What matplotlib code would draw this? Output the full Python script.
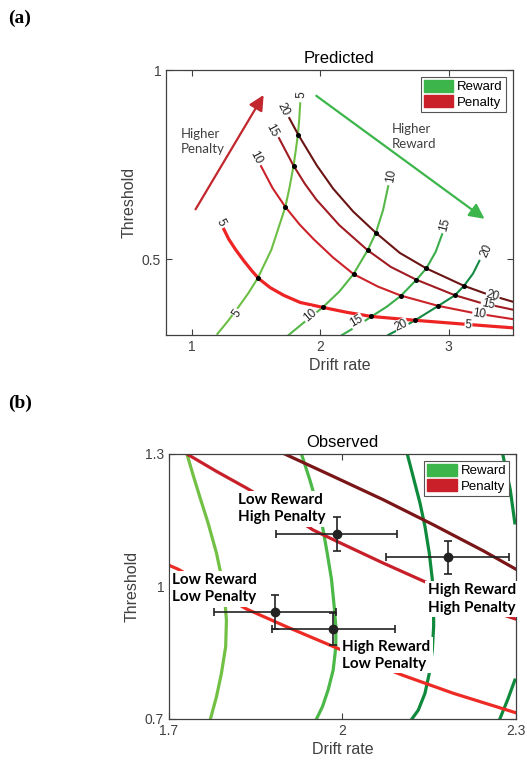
import numpy as np
import matplotlib
matplotlib.use('Agg')
import matplotlib.pyplot as plt
from matplotlib.patches import Patch

plt.rcParams['font.family'] = ['Liberation Sans', 'DejaVu Sans']

# ---------------- dados painel (a): curvas de nivel previstas ----------------
pen5_x = [1.251, 1.289, 1.341, 1.406, 1.470, 1.522, 1.612, 1.716, 1.845, 2.021, 2.207, 2.401,
          2.736, 3.111, 3.499]
pen5_y = [0.579, 0.553, 0.526, 0.496, 0.469, 0.449, 0.425, 0.405, 0.386, 0.373, 0.360, 0.349,
          0.339, 0.329, 0.319]
pen10_x = [1.54, 1.63, 1.73, 1.84, 1.95, 2.10, 2.26, 2.45, 2.63, 2.92, 3.20, 3.50]
pen10_y = [0.746, 0.688, 0.638, 0.592, 0.553, 0.505, 0.461, 0.428, 0.404, 0.377, 0.358, 0.342]
pen15_x = [1.68, 1.79, 1.88, 1.97, 2.15, 2.37, 2.55, 2.75, 3.05, 3.25, 3.50]
pen15_y = [0.820, 0.749, 0.700, 0.658, 0.590, 0.524, 0.480, 0.446, 0.405, 0.385, 0.367]
pen20_x = [1.76, 1.83, 1.974, 2.103, 2.258, 2.434, 2.62, 2.827, 3.12, 3.30, 3.50]
pen20_y = [0.873, 0.829, 0.748, 0.686, 0.626, 0.570, 0.517, 0.476, 0.430, 0.408, 0.388]

rew5_x = [1.20, 1.28, 1.36, 1.44, 1.514, 1.62, 1.729, 1.762, 1.793, 1.81, 1.827, 1.837, 1.845]
rew5_y = [0.303, 0.336, 0.372, 0.410, 0.450, 0.525, 0.638, 0.690, 0.747, 0.787, 0.829, 0.868, 0.912]
rew10_x = [1.755, 1.88, 2.02, 2.15, 2.26, 2.37, 2.434, 2.49, 2.53]
rew10_y = [0.300, 0.335, 0.373, 0.415, 0.461, 0.524, 0.570, 0.630, 0.693]
rew15_x = [2.17, 2.28, 2.40, 2.52, 2.63, 2.75, 2.827, 2.90, 2.95]
rew15_y = [0.300, 0.322, 0.349, 0.375, 0.404, 0.446, 0.476, 0.520, 0.566]
rew20_x = [2.53, 2.63, 2.74, 2.92, 3.05, 3.12, 3.19, 3.24]
rew20_y = [0.300, 0.318, 0.339, 0.377, 0.405, 0.430, 0.462, 0.496]

# pontos de intersecao
cruz_x = [1.514, 1.729, 1.793, 1.827, 2.02, 2.26, 2.37, 2.434, 2.40, 2.63, 2.75, 2.827,
          2.74, 2.92, 3.05, 3.12]
cruz_y = [0.450, 0.638, 0.747, 0.829, 0.373, 0.461, 0.524, 0.570, 0.349, 0.404, 0.446, 0.476,
          0.339, 0.377, 0.405, 0.430]

# ---------------- dados painel (b): observado ----------------
g1_x = [1.731, 1.7415, 1.753, 1.7675, 1.782, 1.7906, 1.7964, 1.7993, 1.798, 1.7906, 1.782, 1.7716]
g1_y = [1.300, 1.253, 1.204, 1.144, 1.076, 1.023, 0.970, 0.924, 0.864, 0.803, 0.750, 0.700]
g2_x = [1.929, 1.9434, 1.955, 1.9654, 1.9735, 1.981, 1.9856, 1.9885, 1.9885, 1.9839, 1.9752,
        1.9654, 1.955]
g2_y = [1.300, 1.242, 1.189, 1.136, 1.076, 1.016, 0.955, 0.909, 0.864, 0.811, 0.766, 0.728, 0.700]
g3_x = [2.112, 2.1235, 2.134, 2.1426, 2.150, 2.1553, 2.1576, 2.1576, 2.1553, 2.150, 2.1426,
        2.131, 2.120]
g3_y = [1.300, 1.242, 1.189, 1.136, 1.076, 1.016, 0.955, 0.909, 0.856, 0.803, 0.758, 0.720, 0.700]
g4a_x = [2.277, 2.290, 2.298]
g4a_y = [1.300, 1.220, 1.144]
g4b_x = [2.272, 2.286, 2.298]
g4b_y = [0.700, 0.745, 0.788]

rb_mid_x = [1.731, 1.782, 1.834, 1.8945, 1.949, 1.990, 2.0704, 2.148, 2.226, 2.300]
rb_mid_y = [1.300, 1.2607, 1.2229, 1.1753, 1.128, 1.1024, 1.053, 1.0075, 0.9584, 0.926]
rb_vivo_x = [1.700, 1.716, 1.834, 1.903, 1.995, 2.102, 2.192, 2.300]
rb_vivo_y = [1.048, 1.039, 0.949, 0.909, 0.858, 0.800, 0.758, 0.714]
rb_escuro_x = [1.900, 1.9837, 2.0704, 2.157, 2.2434, 2.300]
rb_escuro_y = [1.300, 1.2494, 1.1965, 1.1398, 1.0808, 1.039]

obs_x = [1.990, 2.182, 1.883, 1.984]
obs_y = [1.119, 1.066, 0.942, 0.904]
obs_xerr = [0.105, 0.106, 0.105, 0.106]
obs_yerr = [0.038, 0.038, 0.038, 0.037]
obs_rotulos = ['Low Reward\nHigh Penalty', 'High Reward\nHigh Penalty',
               'Low Reward\nLow Penalty', 'High Reward\nLow Penalty']
rot_x = [1.819, 2.147, 1.706, 2.000]
rot_y = [1.176, 0.972, 0.995, 0.844]

# cores
c_pen = ['#ee2424', '#cc2229', '#a01c22', '#6b1414']
c_rew = ['#6cbf44', '#55b848', '#3aae4a', '#138a43']
cinza = '#404040'

fig = plt.figure(figsize=(5.27, 7.67), dpi=100)
ax1 = fig.add_axes([0.315, 0.5632, 0.658, 0.3455])
ax2 = fig.add_axes([0.3207, 0.0626, 0.6584, 0.3455])


def estilo(ax):
    for s in ax.spines.values():
        s.set_color(cinza)
        s.set_linewidth(0.9)
    ax.tick_params(direction='in', top=True, right=True, length=4, color=cinza,
                   labelcolor=cinza, labelsize=10, width=0.8)
    ax.set_xlabel('Drift rate', fontsize=11.5, color=cinza, labelpad=3)
    ax.set_ylabel('Threshold', fontsize=11.5, color=cinza, labelpad=4)


# ---------------- painel (a) ----------------
pen_x = [pen5_x, pen10_x, pen15_x, pen20_x]
pen_y = [pen5_y, pen10_y, pen15_y, pen20_y]
rew_x = [rew5_x, rew10_x, rew15_x, rew20_x]
rew_y = [rew5_y, rew10_y, rew15_y, rew20_y]
lw_pen = [2.3, 1.5, 1.5, 1.5]
for i in range(4):
    ax1.plot(rew_x[i], rew_y[i], color=c_rew[i], lw=1.5, zorder=2)
    ax1.plot(pen_x[i], pen_y[i], color=c_pen[i], lw=lw_pen[i], zorder=3)
ax1.plot(cruz_x, cruz_y, 'o', color='black', ms=2.6, zorder=5)

# rotulos das curvas: primeiro o fundo branco (abre a linha), depois o texto por cima
niveis = ['5', '10', '15', '20']
lab_pen_ini = [(1.225, 0.598, -62), (1.496, 0.768, -62), (1.625, 0.840, -62), (1.710, 0.895, -62)]
lab_pen_fim = [(3.155, 0.327, -4), (3.240, 0.355, -8), (3.305, 0.380, -12), (3.344, 0.404, -15)]
lab_rew_top = [(1.858, 0.935, 88), (2.550, 0.720, 80), (2.974, 0.592, 75), (3.292, 0.522, 65)]
lab_rew_bot = [(1.350, 0.358, 55), (1.920, 0.351, 40), (2.284, 0.336, 30), (2.633, 0.325, 25)]
for grupo in [lab_pen_ini, lab_pen_fim, lab_rew_top, lab_rew_bot]:
    for (x, y, r), t in zip(grupo, niveis):
        ax1.text(x, y, t, fontsize=8.5, rotation=r, ha='center', va='center', color='white',
                 zorder=6, bbox=dict(boxstyle='square,pad=0.05', fc='white', ec='none'))
        ax1.text(x, y, t, fontsize=8.5, rotation=r, ha='center', va='center', color='#222222',
                 zorder=7)

ax1.annotate('', xy=(1.56, 0.934), xytext=(1.03, 0.632),
             arrowprops=dict(arrowstyle='-|>,head_length=0.9,head_width=0.45', color='#c1272d',
                             lw=1.6, shrinkA=0, shrinkB=0))
ax1.annotate('', xy=(3.28, 0.607), xytext=(1.97, 0.932),
             arrowprops=dict(arrowstyle='-|>,head_length=0.9,head_width=0.45', color='#3cb54a',
                             lw=1.6, shrinkA=0, shrinkB=0))
ax1.text(0.915, 0.811, 'Higher\nPenalty', fontsize=9.5, family=['Lato', 'DejaVu Sans'],
         color=cinza, va='center', ha='left', linespacing=1.35)
ax1.text(2.556, 0.825, 'Higher\nReward', fontsize=9.5, family=['Lato', 'DejaVu Sans'],
         color=cinza, va='center', ha='left', linespacing=1.35)

ax1.set_xlim(0.8, 3.5)
ax1.set_ylim(0.3, 1.0)
ax1.set_xticks([1, 2, 3])
ax1.set_yticks([0.5, 1])
ax1.set_yticklabels(['0.5', '1'])
estilo(ax1)
ax1.set_title('Predicted', fontsize=12, pad=5)

# ---------------- painel (b) ----------------
for gx, gy, c in [(g1_x, g1_y, '#72c044'), (g2_x, g2_y, '#4cb848'), (g3_x, g3_y, '#0f8a3c'),
                  (g4a_x, g4a_y, '#0f8a3c'), (g4b_x, g4b_y, '#0f8a3c')]:
    ax2.plot(gx, gy, color=c, lw=2.3, zorder=2)
ax2.plot(rb_mid_x, rb_mid_y, color='#c8202a', lw=2.3, zorder=2)
ax2.plot(rb_vivo_x, rb_vivo_y, color='#ee2a24', lw=2.3, zorder=2)
ax2.plot(rb_escuro_x, rb_escuro_y, color='#7a1518', lw=2.3, zorder=2)

for x, y, t in zip(rot_x, rot_y, obs_rotulos):
    ax2.text(x, y, t, fontsize=11, fontweight='bold', family=['Lato', 'DejaVu Sans'],
             ha='left', va='center', linespacing=1.3, zorder=3,
             bbox=dict(boxstyle='square,pad=0.15', fc='white', ec='none'))

ax2.errorbar(obs_x, obs_y, xerr=obs_xerr, yerr=obs_yerr, fmt='o', color='#222222', ms=6,
             elinewidth=1.2, capsize=3, capthick=1.2, zorder=4)

ax2.set_xlim(1.7, 2.3)
ax2.set_ylim(0.7, 1.3)
ax2.set_xticks([1.7, 2, 2.3])
ax2.set_xticklabels(['1.7', '2', '2.3'])
ax2.set_yticks([0.7, 1, 1.3])
ax2.set_yticklabels(['0.7', '1', '1.3'])
estilo(ax2)
ax2.set_title('Observed', fontsize=12, pad=5)

# legendas
for ax in [ax1, ax2]:
    h = [Patch(color='#3cb54a', label='Reward'), Patch(color='#c9202a', label='Penalty')]
    leg = ax.legend(handles=h, loc='upper right', fontsize=9.5, fancybox=False, framealpha=1,
                    edgecolor='#555555', handlelength=2.2, handleheight=1.0, handletextpad=0.3,
                    borderpad=0.25, labelspacing=0.15, borderaxespad=0.5)
    leg.get_frame().set_linewidth(0.8)
    leg.set_zorder(10)

fig.text(0.015, 0.976, '(a)', fontsize=14, fontweight='bold',
         family=['Liberation Serif', 'DejaVu Serif'], va='center')
fig.text(0.015, 0.474, '(b)', fontsize=14, fontweight='bold',
         family=['Liberation Serif', 'DejaVu Serif'], va='center')

fig.savefig('out.png', dpi=100)
